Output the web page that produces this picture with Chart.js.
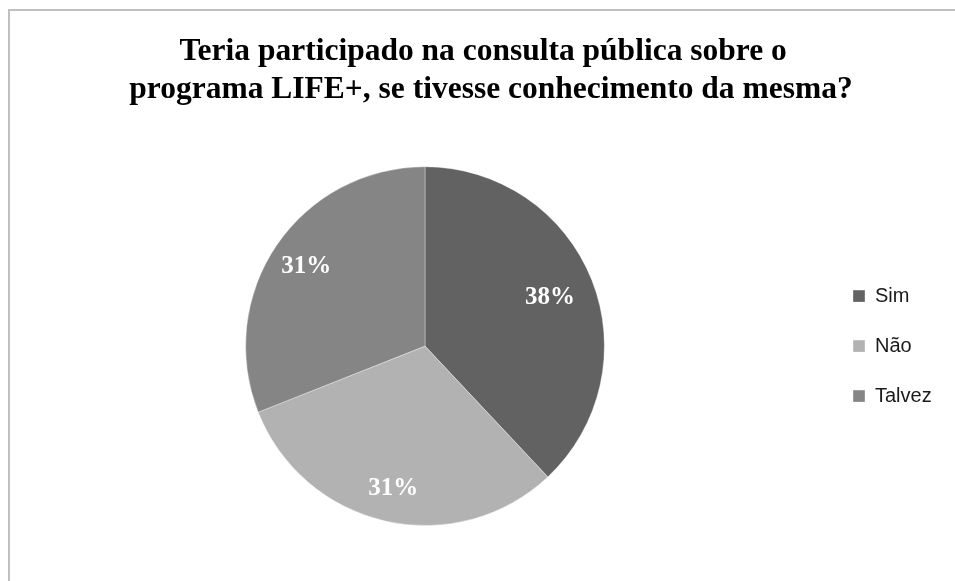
<!DOCTYPE html>
<html>
<head>
<meta charset="utf-8">
<script src="https://cdn.jsdelivr.net/npm/chart.js@4"></script>
<style>
  html, body { margin: 0; padding: 0; background: #fff; overflow: hidden; }
  #frame {
    position: absolute; left: 8px; top: 9px; width: 1100px; height: 800px;
    border: 2px solid #c0c0c0; box-sizing: border-box;
  }
  #wrap { position: absolute; left: 0; top: 0; width: 955px; height: 581px; }
</style>
</head>
<body>
<div id="frame"></div>
<div id="wrap"><canvas id="pieChart"></canvas></div>
<script>
const titleLines = [
  "Teria participado na consulta pública sobre o  ",
  "programa LIFE+, se tivesse conhecimento da mesma?",
];
const categories = ["Sim", "Não", "Talvez"];
const percentages = [38, 31, 31];
const sliceColors = ["#626262", "#b2b2b2", "#858585"];

// where each % label sits, as a fraction of the radius from the centre
const labelDistance = [0.75, 0.81, 0.8];

const pieLabels = {
  id: "pieLabels",
  afterDatasetsDraw(chart) {
    const ctx = chart.ctx;
    const arcs = chart.getDatasetMeta(0).data;
    ctx.save();
    ctx.fillStyle = "#ffffff";
    ctx.font = "bold 25px 'Liberation Serif', 'Times New Roman', serif";
    ctx.textAlign = "center";
    ctx.textBaseline = "middle";
    arcs.forEach((arc, i) => {
      const mid = (arc.startAngle + arc.endAngle) / 2;
      const r = arc.outerRadius * labelDistance[i];
      ctx.fillText(
        percentages[i] + "%",
        arc.x + Math.cos(mid) * r,
        arc.y + Math.sin(mid) * r + 1,
      );
    });
    ctx.restore();
  },
};

// fixed legend column width, legend centred on the pie
const layoutFix = {
  id: "layoutFix",
  beforeInit(chart) {
    const legend = chart.legend;
    const fit = legend.fit;
    legend.fit = function () {
      fit.call(this);
      this.width = 132;
    };
  },
  afterLayout(chart) {
    chart.legend.top = chart.chartArea.top;
    chart.legend.bottom = chart.chartArea.bottom;
  },
};

const ctx = document.getElementById("pieChart");

new Chart(ctx, {
  type: "pie",
  plugins: [pieLabels, layoutFix],
  data: {
    labels: categories,
    datasets: [
      {
        data: percentages,
        backgroundColor: sliceColors,
        borderColor: "rgba(255,255,255,0.35)",
        borderWidth: 1,
      },
    ],
  },
  options: {
    responsive: true,
    maintainAspectRatio: false,
    animation: false,
    layout: {
      padding: { left: 27, right: 0, top: 0, bottom: 55 },
    },
    plugins: {
      title: {
        display: true,
        text: titleLines,
        color: "#000000",
        font: {
          family: "'Liberation Serif', 'Times New Roman', serif",
          size: 31.5,
          weight: "bold",
          lineHeight: 1.21,
        },
        padding: { top: 33, bottom: 57 },
      },
      legend: {
        position: "right",
        labels: {
          boxWidth: 12,
          boxHeight: 12,
          padding: 30,
          color: "#1a1a1a",
          font: {
            family: "'Liberation Sans', Arial, sans-serif",
            size: 20,
          },
        },
      },
      tooltip: { enabled: false },
    },
  },
});
</script>
</body>
</html>
